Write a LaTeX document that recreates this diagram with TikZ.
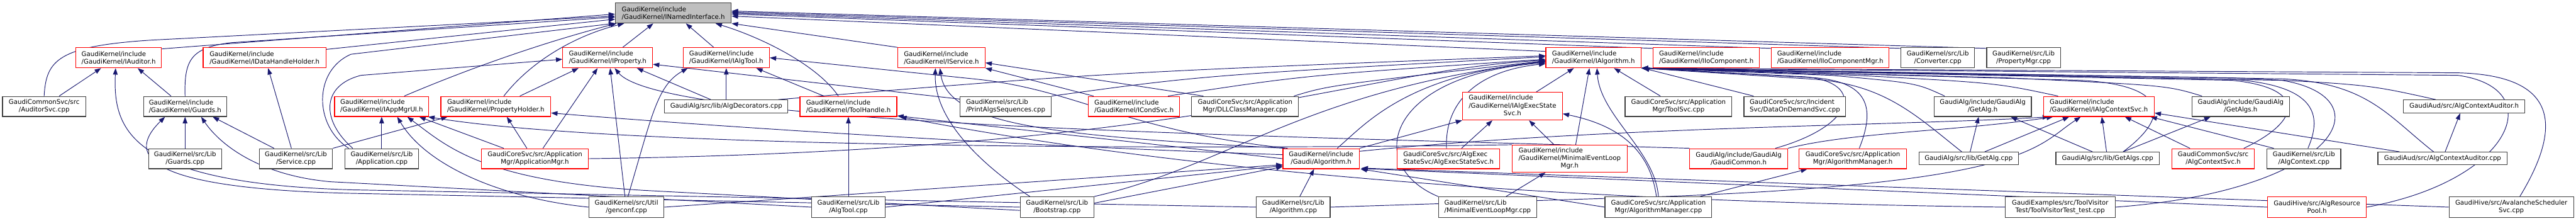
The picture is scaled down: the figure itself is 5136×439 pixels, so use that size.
\documentclass[tikz,border=0pt]{standalone}
\usepackage{fontspec}
\setmainfont{DejaVu Sans}
\usetikzlibrary{arrows.meta,calc}
\definecolor{edgec}{HTML}{191970}
\definecolor{bordk}{HTML}{404040}
\definecolor{grayfill}{HTML}{BFBFBF}
\newcommand\fnt{\fontsize{6.4pt}{7.65pt}\selectfont}
\tikzset{
 boxbase/.style={draw, line width=0.7pt, fill=white, inner sep=0pt, font=\fnt},
 bk/.style={boxbase, draw=bordk},
 rd/.style={boxbase, draw=red},
 gy/.style={boxbase, draw=bordk, fill=grayfill},
 conn/.style={draw=edgec, line width=0.6pt, -{Triangle[length=6.4pt,width=4.6pt]}},
}
\newcommand\mknode[7]{\node[#6, minimum width={(#3-#2)*0.5pt}, minimum height={(#5-#4)*0.5pt}] (#1) at ({(#2+#3)/2},{(#4+#5)/2}) {#7};}
\newcommand\lthree[3]{\begin{tabular}{@{}l@{}}#1\\#2\\\multicolumn{1}{@{}c@{}}{#3}\end{tabular}}
\pgfdeclarelayer{edges}
\pgfsetlayers{edges,main}
\begin{document}
\begin{tikzpicture}[x=0.5pt,y=-0.5pt]
\useasboundingbox (0,0) rectangle (5136,439);
% row 1
\mknode{N}{1227}{1458}{6}{46}{gy,align=left}{GaudiKernel/include\\/GaudiKernel/INamedInterface.h}
% row 2
\mknode{IAuditor}{151}{322}{95}{135}{rd,align=left}{GaudiKernel/include\\/GaudiKernel/IAuditor.h}
\mknode{IDHH}{405}{650}{95}{135}{rd,align=left}{GaudiKernel/include\\/GaudiKernel/IDataHandleHolder.h}
\mknode{IProperty}{1122}{1301}{95}{135}{rd,align=left}{GaudiKernel/include\\/GaudiKernel/IProperty.h}
\mknode{IAlgTool}{1362}{1534}{95}{135}{rd,align=left}{GaudiKernel/include\\/GaudiKernel/IAlgTool.h}
\mknode{IService}{1790}{1964}{95}{135}{rd,align=left}{GaudiKernel/include\\/GaudiKernel/IService.h}
\mknode{IAlgorithm}{3082}{3272}{95}{135}{rd,align=left}{GaudiKernel/include\\/GaudiKernel/IAlgorithm.h}
\mknode{IIoComp}{3296}{3508}{95}{135}{rd,align=left}{GaudiKernel/include\\/GaudiKernel/IIoComponent.h}
\mknode{IIoCompMgr}{3532}{3766}{95}{135}{rd,align=left}{GaudiKernel/include\\/GaudiKernel/IIoComponentMgr.h}
\mknode{Converter}{3790}{3937}{95}{135}{bk,align=center}{GaudiKernel/src/Lib\\/Converter.cpp}
\mknode{PropertyMgr}{3961}{4108}{95}{135}{bk,align=center}{GaudiKernel/src/Lib\\/PropertyMgr.cpp}
% row 3
\mknode{AuditorSvc}{5}{171}{192}{232}{bk,align=center}{GaudiCommonSvc/src\\/AuditorSvc.cpp}
\mknode{Guardsh}{286}{452}{192}{232}{bk,align=left}{GaudiKernel/include\\/GaudiKernel/Guards.h}
\mknode{IAppMgrUI}{667}{855}{192}{232}{rd,align=left}{GaudiKernel/include\\/GaudiKernel/IAppMgrUI.h}
\mknode{PropHolder}{879}{1098}{192}{232}{rd,align=left}{GaudiKernel/include\\/GaudiKernel/PropertyHolder.h}
\mknode{AlgDecorators}{1325}{1571}{199}{225}{bk}{GaudiAlg/src/lib/AlgDecorators.cpp}
\mknode{ToolHandle}{1595}{1788}{192}{232}{rd,align=left}{GaudiKernel/include\\/GaudiKernel/ToolHandle.h}
\mknode{PrintAlgs}{1914}{2096}{192}{232}{bk,align=left}{GaudiKernel/src/Lib\\/PrintAlgsSequences.cpp}
\mknode{ICondSvc}{2170}{2352}{192}{232}{rd,align=left}{GaudiKernel/include\\/GaudiKernel/ICondSvc.h}
\mknode{DLLClassMgr}{2376}{2589}{192}{232}{bk,align=center}{GaudiCoreSvc/src/Application\\Mgr/DLLClassManager.cpp}
\mknode{IAlgExec}{2916}{3115}{184}{239}{rd}{\lthree{GaudiKernel/include}{/GaudiKernel/IAlgExecState}{Svc.h}}
\mknode{ToolSvc}{3240}{3453}{192}{232}{bk,align=center}{GaudiCoreSvc/src/Application\\Mgr/ToolSvc.cpp}
\mknode{DataOnDemand}{3477}{3680}{192}{232}{bk,align=left}{GaudiCoreSvc/src/Incident\\Svc/DataOnDemandSvc.cpp}
\mknode{GetAlgh}{3856}{4050}{192}{232}{bk,align=center}{GaudiAlg/include/GaudiAlg\\/GetAlg.h}
\mknode{IAlgCtx}{4074}{4295}{192}{232}{rd,align=left}{GaudiKernel/include\\/GaudiKernel/IAlgContextSvc.h}
\mknode{GetAlgsh}{4370}{4565}{192}{232}{bk,align=center}{GaudiAlg/include/GaudiAlg\\/GetAlgs.h}
\mknode{ACAh}{4792}{5034}{199}{225}{bk}{GaudiAud/src/AlgContextAuditor.h}
% row 4
\mknode{Guardscpp}{296}{442}{296}{336}{bk,align=center}{GaudiKernel/src/Lib\\/Guards.cpp}
\mknode{Servicecpp}{517}{663}{296}{336}{bk,align=center}{GaudiKernel/src/Lib\\/Service.cpp}
\mknode{Appcpp}{688}{834}{296}{336}{bk,align=center}{GaudiKernel/src/Lib\\/Application.cpp}
\mknode{AppMgrh}{960}{1173}{296}{336}{rd,align=center}{GaudiCoreSvc/src/Application\\Mgr/ApplicationMgr.h}
\mknode{Algorithmh}{2558}{2710}{296}{336}{rd,align=center}{GaudiKernel/include\\/Gaudi/Algorithm.h}
\mknode{AESSh}{2786}{2990}{296}{336}{rd,align=left}{GaudiCoreSvc/src/AlgExec\\StateSvc/AlgExecStateSvc.h}
\mknode{MELMh}{3015}{3244}{289}{343}{rd}{\lthree{GaudiKernel/include}{/GaudiKernel/MinimalEventLoop}{Mgr.h}}
\mknode{GaudiCommon}{3369}{3564}{296}{336}{rd,align=center}{GaudiAlg/include/GaudiAlg\\/GaudiCommon.h}
\mknode{AlgMgrh}{3587}{3801}{296}{336}{rd,align=center}{GaudiCoreSvc/src/Application\\Mgr/AlgorithmManager.h}
\mknode{GetAlgcpp}{3826}{4024}{303}{328}{bk}{GaudiAlg/src/lib/GetAlg.cpp}
\mknode{GetAlgscpp}{4099}{4305}{303}{328}{bk}{GaudiAlg/src/lib/GetAlgs.cpp}
\mknode{AlgCtxSvch}{4330}{4495}{296}{336}{rd,align=center}{GaudiCommonSvc/src\\/AlgContextSvc.h}
\mknode{AlgCtxcpp}{4520}{4667}{296}{336}{bk,align=center}{GaudiKernel/src/Lib\\/AlgContext.cpp}
\mknode{ACAcpp}{4741}{4999}{303}{328}{bk}{GaudiAud/src/AlgContextAuditor.cpp}
% row 5
\mknode{genconf}{1174}{1324}{392}{433}{bk,align=center}{GaudiKernel/src/Util\\/genconf.cpp}
\mknode{AlgToolcpp}{1618}{1765}{392}{433}{bk,align=center}{GaudiKernel/src/Lib\\/AlgTool.cpp}
\mknode{Bootstrap}{2034}{2181}{392}{433}{bk,align=center}{GaudiKernel/src/Lib\\/Bootstrap.cpp}
\mknode{Algorithmcpp}{2505}{2652}{392}{433}{bk,align=center}{GaudiKernel/src/Lib\\/Algorithm.cpp}
\mknode{MELMcpp}{2868}{3064}{392}{433}{bk,align=left}{GaudiKernel/src/Lib\\/MinimalEventLoopMgr.cpp}
\mknode{AlgMgrcpp}{3200}{3413}{392}{433}{bk,align=center}{GaudiCoreSvc/src/Application\\Mgr/AlgorithmManager.cpp}
\mknode{ToolVisitor}{3998}{4217}{392}{433}{bk,align=center}{GaudiExamples/src/ToolVisitor\\Test/ToolVisitorTest\_test.cpp}
\mknode{AlgResPool}{4521}{4718}{392}{433}{rd,align=center}{GaudiHive/src/AlgResource\\Pool.h}
\mknode{Avalanche}{4883}{5131}{392}{433}{bk,align=center}{GaudiHive/src/AvalancheScheduler\\Svc.cpp}

\begin{pgfonlayer}{edges}
% into INamedInterface
\draw[conn] (AuditorSvc.north) .. controls (92,120) and (115,92) .. (300,80) -- (N.183);
\draw[conn] ($(IAuditor.north east)+(0,3)$) -- (N.181);
\draw[conn] (Guardsh.north) .. controls (367,120) and (380,95) .. (460,85) -- (N.184);
\draw[conn] ($(IDHH.north east)+(0,4)$) -- (N.186);
\draw[conn] ($(Appcpp.north west)+(8,0)$) .. controls (625,250) and (625,140) .. (700,108) -- (N.190);
\draw[conn] ($(IAppMgrUI.north)+(45,0)$) .. controls (950,130) and (1100,80) .. ($(N.south west)+(3,0)$);
\draw[conn] ($(PropHolder.north)+(16,0)$) .. controls (1060,120) and (1150,70) .. ($(N.south west)+(18,0)$);
\draw[conn] ($(IProperty.north)+(30,0)$) -- ($(N.south)+(-40,0)$);
\draw[conn] ($(IAlgTool.north)+(-25,0)$) -- ($(N.south)+(25,0)$);
\draw[conn] ($(ToolHandle.north)+(-20,0)$) .. controls (1630,130) and (1520,75) .. ($(N.south east)+(-32,0)$);
\draw[conn] (IService.north west) -- (N.south east);
\draw[conn] ($(IAlgorithm.north west)+(0,8)$) -- (N.-3);
\draw[conn] ($(IIoComp.north west)+(0,2)$) -- (N.-1);
\draw[conn] ($(IIoCompMgr.north west)+(0,2)$) -- (N.0);
\draw[conn] ($(Converter.north west)+(0,2)$) -- (N.1);
\draw[conn] ($(PropertyMgr.north west)+(0,2)$) -- (N.2);
% IAuditor
\draw[conn] ($(AuditorSvc.north)+(30,0)$) -- ($(IAuditor.south)+(-35,0)$);
\draw[conn] ($(Guardsh.north)+(-28,0)$) -- ($(IAuditor.south)+(38,0)$);
\draw[conn] (Algorithmcpp.west) -- (700,378) .. controls (260,365) and (225,260) .. ($(IAuditor.south)+(-6,0)$);
% Guards.h
\draw[conn] (Guardscpp) -- (Guardsh);
\draw[conn] ($(Servicecpp.north west)+(30,0)$) -- ($(Guardsh.south)+(55,0)$);
\draw[conn] (AlgToolcpp.west) -- (660,362) .. controls (520,350) and (440,290) .. ($(Guardsh.south)+(32,0)$);
\draw[conn] (Bootstrap.west) -- (700,385) .. controls (260,375) and (260,300) .. ($(Guardsh.south)+(-40,0)$);
% IDataHandleHolder
\draw[conn] ($(Servicecpp.north)+(-9,0)$) -- ($(IDHH.south)+(7,0)$);
% IProperty
\draw[conn] ($(PropHolder.north)+(48,0)$) -- ($(IProperty.south)+(-58,0)$);
\draw[conn] ($(AppMgrh.north)+(16,0)$) -- ($(IProperty.south)+(-20,0)$);
\draw[conn] ($(genconf.north)+(-3,0)$) -- ($(IProperty.south)+(5,0)$);
\draw[conn] (GaudiCommon.north west) .. controls (2500,270) and (1320,250) .. ($(IProperty.south)+(14,0)$);
\draw[conn] ($(AlgDecorators.north)+(-31,0)$) -- ($(IProperty.south east)+(-32,0)$);
\draw[conn] ($(Appcpp.north west)+(16,0)$) .. controls (640,240) and (640,170) .. (720,150) -- ($(IProperty.west)+(0,3)$);
\draw[conn] ($(PrintAlgs.north west)+(0,6)$) -- ($(IProperty.east)+(0,13)$);
% IAppMgrUI
\draw[conn] (Appcpp) -- (IAppMgrUI);
\draw[conn] (genconf.west) .. controls (1000,395) and (850,330) .. ($(IAppMgrUI.south)+(31,0)$);
\draw[conn] (Bootstrap.185) -- (1300,380) .. controls (960,362) and (890,290) .. ($(IAppMgrUI.south)+(51,0)$);
\draw[conn] ($(AppMgrh.north west)+(45,0)$) -- ($(IAppMgrUI.south east)+(-20,0)$);
\draw[conn] (MELMh.north west) .. controls (2200,300) and (1200,290) .. ($(IAppMgrUI.south east)+(-2,0)$);
% PropertyHolder
\draw[conn] ($(AppMgrh.north)+(-16,0)$) -- ($(PropHolder.south)+(22,0)$);
\draw[conn] (Servicecpp.north east) -- ($(PropHolder.south west)+(14,0)$);
\draw[conn] ($(Algorithmh.west)+(0,-8)$) .. controls (2000,290) and (1400,250) .. ($(PropHolder.east)+(0,13)$);
% IAlgTool
\draw[conn] ($(genconf.north)+(3,0)$) .. controls (1300,230) and (1310,170) .. ($(IAlgTool.south west)+(10,0)$);
\draw[conn] (AlgDecorators) -- (IAlgTool);
\draw[conn] ($(ToolHandle.north)+(-49,0)$) -- ($(IAlgTool.south east)+(-27,0)$);
\draw[conn] ($(Algorithmh.north west)+(10,0)$) .. controls (2250,262) and (2150,180) .. (1950,158) -- (IAlgTool.east);
% IService
\draw[conn] ($(DLLClassMgr.north west)+(24,0)$) -- ($(IService.east)+(0,10)$);
\draw[conn] ($(ICondSvc.north west)+(11,0)$) -- (IService.south east);
\draw[conn] ($(Bootstrap.north west)+(20,0)$) .. controls (1960,330) and (1862,240) .. ($(IService.south)+(-12,0)$);
\draw[conn] ($(Algorithmh.north west)+(4,0)$) .. controls (2100,270) and (1890,250) .. ($(IService.south)+(-3,0)$);
% ToolHandle
\draw[conn] (AlgToolcpp) -- (ToolHandle);
\draw[conn] (Algorithmh.west) -- ($(ToolHandle.south east)+(0,-2)$);
\draw[conn] (ToolVisitor.west) .. controls (3000,400) and (2300,330) .. ($(ToolHandle.south east)+(6,0)$);
% IAlgorithm from left
\draw[conn] ($(ICondSvc.north east)+(-24,0)$) .. controls (2600,150) .. ($(IAlgorithm.west)+(0,3)$);
\draw[conn] (PrintAlgs.north east) .. controls (2400,150) .. ($(IAlgorithm.west)+(0,-2)$);
\draw[conn] ($(DLLClassMgr.north east)+(-10,0)$) .. controls (2650,170) .. ($(IAlgorithm.west)+(0,6)$);
\draw[conn] ($(AlgDecorators.north east)+(-20,0)$) .. controls (2200,145) .. ($(IAlgorithm.west)+(0,-4)$);
\draw[conn] ($(Algorithmh.north)+(32,0)$) .. controls (2720,250) and (2800,150) .. ($(IAlgorithm.west)+(0,8)$);
\draw[conn] ($(AESSh.north)+(-4,0)$) .. controls (2880,200) and (2950,140) .. ($(IAlgorithm.west)+(0,12)$);
\draw[conn] (MELMcpp.north west) .. controls (2720,330) and (2760,150) .. ($(IAlgorithm.west)+(0,10)$);
\draw[conn] (Bootstrap.north east) .. controls (2450,330) and (2600,180) .. ($(IAlgorithm.west)+(0,7)$);
\draw[conn] (AppMgrh.east) .. controls (2400,300) and (2700,140) .. ($(IAlgorithm.west)+(0,5)$);
% IAlgorithm from below
\draw[conn] ($(IAlgExec.north east)+(-53,0)$) -- ($(IAlgorithm.south)+(-39,0)$);
\draw[conn] ($(MELMh.north)+(12,0)$) -- ($(IAlgorithm.south)+(-8,0)$);
\draw[conn] (AlgMgrcpp.north) .. controls (3300,300) and (3190,230) .. ($(IAlgorithm.south)+(7,0)$);
\draw[conn] ($(ToolSvc.north)+(-36,0)$) -- ($(IAlgorithm.south)+(41,0)$);
\draw[conn] ($(DataOnDemand.north west)+(20,0)$) -- ($(IAlgorithm.south east)+(3,0)$);
% IAlgorithm from right
\draw[conn] ($(GaudiCommon.north east)+(-25,0)$) .. controls (3700,250) and (3720,165) .. (3600,153) -- (IAlgorithm.south east);
\draw[conn] ($(AlgMgrh.north)+(13,0)$) .. controls (3735,225) and (3735,165) .. (3620,155) -- (IAlgorithm.south east);
\draw[conn] ($(GetAlgh.north west)+(22,0)$) .. controls (3820,165) .. (3650,150) -- (IAlgorithm.south east);
\draw[conn] ($(GetAlgcpp.north west)+(86,0)$) .. controls (3820,230) and (3760,170) .. (3620,158) -- (IAlgorithm.south east);
\draw[conn] ($(IAlgCtx.north west)+(30,0)$) .. controls (3980,165) .. (3700,150) -- (IAlgorithm.south east);
\draw[conn] ($(GetAlgscpp.north)+(31,0)$) .. controls (4330,230) and (4320,170) .. (4150,160) -- (IAlgorithm.south east);
\draw[conn] ($(GetAlgsh.north west)+(21,0)$) .. controls (4320,170) .. (4000,155) -- (IAlgorithm.south east);
\draw[conn] ($(AlgCtxSvch.north east)+(-22,0)$) .. controls (4590,240) and (4600,175) .. (4450,160) -- (IAlgorithm.south east);
\draw[conn] ($(AlgCtxcpp.north)+(8,0)$) .. controls (4630,230) and (4620,170) .. (4450,158) -- (IAlgorithm.south east);
\draw[conn] ($(ACAcpp.north)+(-18,0)$) .. controls (4760,230) and (4720,165) .. (4550,157) -- (IAlgorithm.south east);
\draw[conn] ($(ACAh.north west)+(65,0)$) .. controls (4720,168) .. (4450,155) -- (IAlgorithm.south east);
\draw[conn] (ToolVisitor.east) .. controls (4660,380) and (4760,195) .. (4550,160) -- (IAlgorithm.south east);
\draw[conn] (AlgResPool.east) .. controls (5010,360) and (5085,175) .. (4900,150) -- (IAlgorithm.south east);
\draw[conn] ($(Avalanche.north)+(17,0)$) .. controls (5110,250) and (5100,150) .. (4900,145) -- (IAlgorithm.south east);
% IAlgExecStateSvc
\draw[conn] (Algorithmh.north east) -- (IAlgExec.south west);
\draw[conn] ($(AESSh.north)+(26,0)$) -- ($(IAlgExec.south)+(-40,0)$);
\draw[conn] ($(MELMh.north)+(-31,0)$) -- ($(IAlgExec.south)+(33,0)$);
\draw[conn] ($(AlgMgrcpp.north)+(-4,0)$) .. controls (3290,300) and (3230,250) .. ($(IAlgExec.east)+(0,15)$);
% MinimalEventLoopMgr.h, AlgorithmManager.h
\draw[conn] ($(MELMcpp.north east)+(-62,0)$) -- ($(MELMh.south west)+(67,0)$);
\draw[conn] ($(AlgMgrcpp.north east)+(-24,0)$) -- ($(AlgMgrh.south west)+(17,0)$);
% Gaudi/Algorithm.h
\draw[conn] ($(Algorithmcpp.north)+(13,0)$) -- ($(Algorithmh.south)+(-14,0)$);
\draw[conn] (genconf.east) -- ($(Algorithmh.west)+(0,12)$);
\draw[conn] (AlgToolcpp.east) -- ($(Algorithmh.west)+(0,14)$);
\draw[conn] ($(Bootstrap.east)+(0,-8)$) -- ($(Algorithmh.west)+(0,16)$);
\draw[conn] (AlgMgrcpp.west) -- ($(Algorithmh.south east)+(2,0)$);
\draw[conn] (AlgResPool.west) -- ($(Algorithmh.south east)+(3,-1)$);
\draw[conn] (Avalanche.west) -- ($(Algorithmh.south east)+(4,-2)$);
% IAlgContextSvc
\draw[conn] ($(Algorithmh.north east)+(0,6)$) .. controls (3200,252) and (3800,250) .. ($(IAlgCtx.south west)+(12,0)$);
\draw[conn] (GaudiCommon.north east) .. controls (3700,262) and (3900,262) .. ($(IAlgCtx.south west)+(20,0)$);
\draw[conn] ($(GetAlgcpp.north)+(32,0)$) -- ($(IAlgCtx.south)+(-59,0)$);
\draw[conn] (Algorithmcpp.east) -- (3300,392) .. controls (4050,365) and (4060,290) .. ($(IAlgCtx.south)+(-36,0)$);
\draw[conn] ($(GetAlgscpp.north)+(-2,0)$) -- ($(IAlgCtx.south)+(6,0)$);
\draw[conn] ($(AlgCtxSvch.north west)+(37,0)$) -- ($(IAlgCtx.south)+(52,0)$);
\draw[conn] ($(AlgCtxcpp.north west)+(14,0)$) -- ($(IAlgCtx.south east)+(-8,0)$);
\draw[conn] ($(ACAcpp.north west)+(44,0)$) -- ($(IAlgCtx.east)+(0,13)$);
% GetAlg.h, GetAlgs.h, AlgContextAuditor.h
\draw[conn] ($(GetAlgcpp.north)+(3,0)$) -- ($(GetAlgh.south)+(-8,0)$);
\draw[conn] ($(GetAlgscpp.north)+(-30,0)$) -- ($(GetAlgh.south east)+(-42,0)$);
\draw[conn] ($(GetAlgscpp.north)+(31,0)$) -- ($(GetAlgsh.south)+(-60,0)$);
\draw[conn] ($(ACAcpp.north)+(5,0)$) -- ($(ACAh.south)+(-8,0)$);
\end{pgfonlayer}
\end{tikzpicture}
\end{document}
